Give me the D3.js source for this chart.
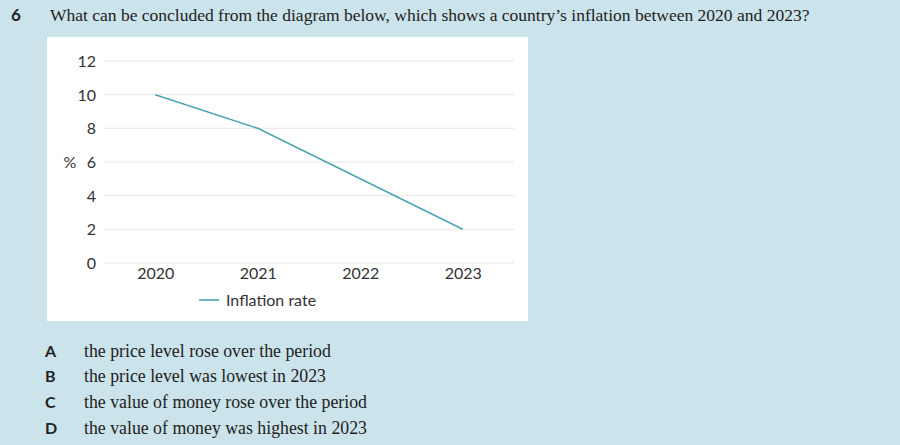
<!DOCTYPE html>
<html><head><meta charset="utf-8">
<script src="https://cdn.jsdelivr.net/npm/d3@7"></script>
<style>
html,body{margin:0;padding:0;background:#cbe3ea;}
svg{display:block;}
</style></head><body>
<svg id="c" width="900" height="445"></svg>
<script>
const years = ["2020","2021","2022","2023"];
const inflation = [10, 8, 5, 2];
const yTicks = [0,2,4,6,8,10,12];
const question = "What can be concluded from the diagram below, which shows a country\u2019s inflation between 2020 and 2023?";
const optionLetters = ["A","B","C","D"];
const optionTexts = ["the price level rose over the period","the price level was lowest in 2023","the value of money rose over the period","the value of money was highest in 2023"];

const svg = d3.select("#c");
svg.append("rect").attr("width",900).attr("height",445).attr("fill","#cbe3ea");

svg.append("text").attr("x",11).attr("y",21).attr("font-family","Lato, Liberation Sans, Arial").attr("font-weight","bold").attr("font-size",17).attr("fill","#222").text("6");
svg.append("text").attr("x",50).attr("y",21).attr("font-family","Liberation Serif, Times New Roman").attr("font-size",17.5).attr("fill","#222").text(question);

// panel
svg.append("rect").attr("x",47).attr("y",37).attr("width",481).attr("height",284).attr("fill","#ffffff");

const x = d3.scalePoint().domain(years).range([104,514]).padding(0.5);
const y = d3.scaleLinear().domain([0,12]).range([263,61]);

const g = svg.append("g");
g.selectAll("line.grid").data(yTicks).join("line")
  .attr("x1",104).attr("x2",514).attr("y1",d=>y(d)).attr("y2",d=>y(d))
  .attr("stroke","#e6e6e6").attr("stroke-width",1);

const yAxis = d3.axisLeft(y).tickValues(yTicks).tickSize(0).tickPadding(0);
const ya = g.append("g").attr("transform","translate(96,0)").call(yAxis);
ya.select(".domain").remove();
ya.selectAll("text").attr("font-family","Lato, Open Sans, sans-serif").attr("font-size",16).attr("fill","#333").attr("dy","0.35em");

const xAxis = d3.axisBottom(x).tickSize(0).tickPadding(0);
const xa = g.append("g").attr("transform","translate(0,265)").call(xAxis);
xa.select(".domain").remove();
xa.selectAll("text").attr("font-family","Lato, Open Sans, sans-serif").attr("font-size",16).attr("fill","#333").attr("dy","0.85em");

g.append("text").attr("x",70).attr("y",y(6)).attr("dy","0.35em").attr("text-anchor","middle")
  .attr("font-family","Lato, Open Sans, sans-serif").attr("font-size",16).attr("fill","#333").text("%");

const line = d3.line().x((d,i)=>x(years[i])).y(d=>y(d));
g.append("path").datum(inflation).attr("d",line).attr("fill","none").attr("stroke","#4aa6b0").attr("stroke-width",1.6);

// legend
g.append("line").attr("x1",199).attr("x2",219).attr("y1",300).attr("y2",300).attr("stroke","#4aa6b0").attr("stroke-width",1.6);
g.append("text").attr("x",226).attr("y",300).attr("dy","0.35em").attr("font-family","Lato, Open Sans, sans-serif").attr("font-size",16).attr("fill","#333").text("Inflation rate");

// options
const oy = [351,376,402,428];
svg.selectAll("text.letter").data(optionLetters).join("text").attr("class","letter")
  .attr("x",45).attr("y",(d,i)=>oy[i]).attr("dy","0.35em")
  .attr("font-family","Lato, Liberation Sans, Arial").attr("font-weight","bold").attr("font-size",16).attr("fill","#222").text(d=>d);
svg.selectAll("text.opt").data(optionTexts).join("text").attr("class","opt")
  .attr("x",84).attr("y",(d,i)=>oy[i]).attr("dy","0.35em")
  .attr("font-family","Liberation Serif, Times New Roman").attr("font-size",17.8).attr("fill","#222").text(d=>d);
</script>
</body></html>
